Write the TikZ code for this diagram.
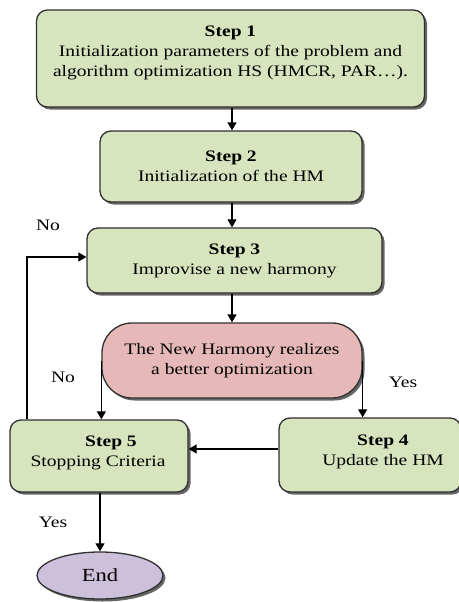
\documentclass[tikz,border=0pt]{standalone}
\usepackage{fontspec}
\setmainfont{Liberation Serif}[FakeStretch=1.22]
\usetikzlibrary{arrows.meta,shadows,shapes.geometric}
\definecolor{boxgreen}{HTML}{D7E4BD}
\definecolor{boxpink}{HTML}{E6B9B8}
\definecolor{boxpurple}{HTML}{CCC0DA}
\definecolor{edge}{HTML}{303030}
\begin{document}
\begin{tikzpicture}[x=1pt,y=-1pt,
  every node/.style={font=\fontsize{16}{20}\selectfont},
  stepbox/.style={draw=edge, line width=1.3pt, fill=boxgreen, rounded corners=11pt,
    drop shadow={shadow xshift=2.5pt, shadow yshift=-2.5pt, fill=black, opacity=0.6},
    inner sep=0pt, align=center},
  decbox/.style={stepbox, fill=boxpink, rounded corners=30pt},
  endbox/.style={draw=edge, line width=1.3pt, fill=boxpurple, ellipse,
    drop shadow={shadow xshift=2.5pt, shadow yshift=-2.5pt, fill=black, opacity=0.6},
    inner sep=0pt},
  txt/.style={align=center, inner sep=0pt},
  lbl/.style={inner sep=0pt, text=black},
  arr/.style={-{Triangle[length=8pt,width=9pt]}, line width=1.2pt, black}
]
\useasboundingbox (0,0) rectangle (458,602);

% boxes
\node[stepbox, minimum width=388pt, minimum height=97pt] (s1) at (230.5,58.5) {};
\node[txt] (s1t) at (230.5,53) {\textbf{Step 1}\\Initialization parameters of the problem and\\algorithm optimization HS (HMCR, PAR\ldots).};
\node[stepbox, minimum width=262pt, minimum height=71pt] (s2) at (231,166.5) {\textbf{Step 2}\\Initialization of the HM};
\node[stepbox, minimum width=295pt, minimum height=65pt] (s3) at (234.5,260.5) {\textbf{Step 3}\\Improvise a new harmony};
\node[decbox, minimum width=260pt, minimum height=75pt] (d) at (232,360.5) {The New Harmony realizes\\a better optimization};
\node[stepbox, minimum width=178pt, minimum height=72pt] (s5) at (99,456) {};
\node[txt] (s5t) at (98,453) {\hspace*{26pt}\textbf{Step 5}\\Stopping Criteria};
\node[stepbox, minimum width=182pt, minimum height=74pt] (s4) at (370,455) {};
\node[txt] (s4t) at (383,452) {\textbf{Step 4}\\Update the HM};
\node[endbox, minimum width=126pt, minimum height=47pt, font=\fontsize{18.5}{22}\selectfont] (e) at (100,575.5) {End};

% connectors
\coordinate (lp) at (27,0);
\coordinate (mid) at (232,0);
\draw[arr] (s1.south -| mid) -- (s2.north -| mid);
\draw[arr] (s2.south -| mid) -- (s3.north -| mid);
\draw[arr] (s3.south -| mid) -- (d.north -| mid);
\draw[arr] (s5.north -| lp) |- ([yshift=3.5pt]s3.west);
\draw[arr] (d.west) -- (d.west |- s5.north);
\draw[arr] (d.east) -- (d.east |- s4.north);
\draw[arr] ([yshift=6pt]s4.west) -- ([yshift=6pt]s4.west -| s5.east);
\draw[arr] (s5.south -| e.north) -- (e.north);

% labels
\node[lbl] (lno1) at (48,225) {No};
\node[lbl] (lno2) at (63,377) {No};
\node[lbl] (lyes1) at (403,382) {Yes};
\node[lbl] (lyes2) at (53,522) {Yes};
\end{tikzpicture}
\end{document}
